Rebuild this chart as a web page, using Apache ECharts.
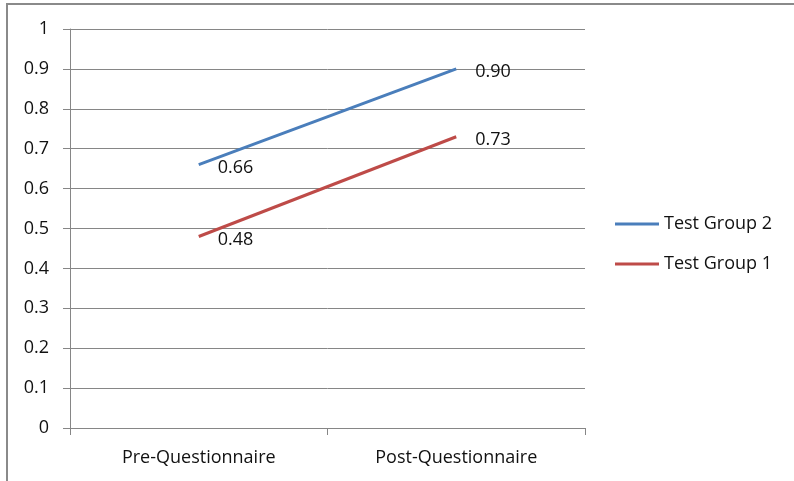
<!DOCTYPE html>
<html>
<head>
<meta charset="utf-8">
<script src="https://cdn.jsdelivr.net/npm/echarts@6/dist/echarts.min.js"></script>
<style>
  html, body { margin: 0; padding: 0; background: #fff; }
  #chart { width: 794px; height: 481px; }
</style>
</head>
<body>
<div id="chart"></div>
<script>
// Questionnaire scores for the two test groups
var categories = ['Pre-Questionnaire', 'Post-Questionnaire'];
var group2 = [0.66, 0.90];
var group1 = [0.48, 0.73];
var seriesNames = ['Test Group 2', 'Test Group 1'];

var FONT = '"Open Sans", "Noto Sans", sans-serif';
var FONT_SIZE = 18;
var GRID_COLOR = '#868686';

var chart = echarts.init(document.getElementById('chart'), null, { renderer: 'canvas' });

function lineSeries(name, data, color) {
  return {
    name: name,
    type: 'line',
    data: data,
    symbol: 'circle',
    symbolSize: 0,
    showSymbol: true,
    lineStyle: { color: color, width: 3 },
    itemStyle: { color: color },
    label: {
      show: true,
      position: 'right',
      offset: [14, 3],
      color: '#111',
      fontFamily: FONT,
      fontSize: FONT_SIZE,
      formatter: function (p) { return p.value.toFixed(2); }
    },
    emphasis: { disabled: true },
    animation: false
  };
}

chart.setOption({
  animation: false,
  backgroundColor: '#ffffff',
  grid: { left: 70, right: 209, top: 29, bottom: 53, containLabel: false },
  legend: {
    orient: 'vertical',
    left: 610,
    top: 210,
    itemWidth: 44,
    itemHeight: 14,
    itemGap: 22,
    icon: 'path://M0,0 L46,0 L46,3 L0,3 Z',
    textStyle: { fontFamily: FONT, fontSize: FONT_SIZE, color: '#111' },
    data: seriesNames
  },
  xAxis: {
    type: 'category',
    data: categories,
    boundaryGap: true,
    axisLine: { lineStyle: { color: GRID_COLOR, width: 1 } },
    axisTick: { show: true, length: 7, inside: false, lineStyle: { color: GRID_COLOR } },
    axisLabel: { margin: 21, fontFamily: FONT, fontSize: FONT_SIZE, color: '#111' },
    splitLine: { show: false }
  },
  yAxis: {
    type: 'value',
    min: 0,
    max: 1,
    interval: 0.1,
    axisLine: { show: true, lineStyle: { color: GRID_COLOR, width: 1 } },
    axisTick: { show: true, length: 7, lineStyle: { color: GRID_COLOR } },
    axisLabel: {
      margin: 21,
      fontFamily: FONT,
      fontSize: FONT_SIZE,
      color: '#111',
      formatter: function (v) { return String(Math.round(v * 10) / 10); }
    },
    splitLine: { show: true, lineStyle: { color: GRID_COLOR, width: 1 } }
  },
  series: [
    lineSeries(seriesNames[1], group1, '#BE4B48'),
    lineSeries(seriesNames[0], group2, '#4A7EBB')
  ],
  graphic: [
    {
      type: 'polyline',
      silent: true,
      shape: { points: [[7, 481], [7, 4], [794, 4]] },
      style: { stroke: '#8a8a8a', lineWidth: 2, fill: null }
    }
  ]
});
</script>
</body>
</html>
